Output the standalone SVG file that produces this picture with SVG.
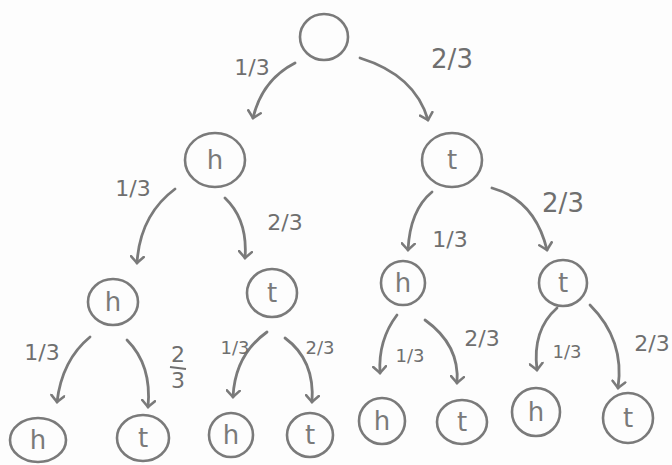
<svg xmlns="http://www.w3.org/2000/svg" width="672" height="465" viewBox="0 0 672 465">
<style>
.node{fill:none;stroke:#7a7a7a;stroke-width:2.6}
.lt{font-family:"DejaVu Sans","Liberation Sans",sans-serif;font-size:26px;fill:#7a7a7a;text-anchor:middle}
.edge{fill:none;stroke:#7a7a7a;stroke-width:2.8;stroke-linecap:round;marker-end:url(#ah)}
.lab{font-family:"DejaVu Sans","Liberation Sans",sans-serif;font-size:22px;fill:#6f6f6f;text-anchor:middle}
.big{font-size:26px}
.sm{font-size:18px}
</style>
<defs>
<marker id="ah" viewBox="0 0 12 12" refX="6" refY="6" markerWidth="5.5" markerHeight="5.5" orient="auto" markerUnits="strokeWidth">
<path d="M1,1 L6,6 L1,11" fill="none" stroke="#7a7a7a" stroke-width="2" stroke-linecap="round"/>
</marker>
</defs>
<rect width="672" height="465" fill="#fdfdfd"/>
<g id="connectors">
<path class="edge" d="M295,63 Q262,80 253,118"/>
<path class="edge" d="M360,58 Q415,75 428,120"/>
<path class="edge" d="M175,189 Q140,215 137,263"/>
<path class="edge" d="M225,198 Q248,220 245,258"/>
<path class="edge" d="M432,192 Q410,210 408,250"/>
<path class="edge" d="M492,188 Q535,200 547,250"/>
<path class="edge" d="M90,337 Q62,360 57,402"/>
<path class="edge" d="M127,340 Q152,365 148,407"/>
<path class="edge" d="M267,332 Q235,355 233,397"/>
<path class="edge" d="M285,338 Q315,360 312,402"/>
<path class="edge" d="M397,315 Q378,340 380,373"/>
<path class="edge" d="M425,320 Q460,345 457,383"/>
<path class="edge" d="M557,308 Q532,330 537,370"/>
<path class="edge" d="M590,305 Q625,340 618,388"/>
<text class="lab" x="252" y="75">1/3</text>
<text class="lab big" x="452" y="68">2/3</text>
<text class="lab" x="133" y="196">1/3</text>
<text class="lab" x="285" y="230">2/3</text>
<text class="lab" x="450" y="247">1/3</text>
<text class="lab big" x="563" y="212">2/3</text>
<text class="lab" x="42" y="360">1/3</text>
<text class="lab" x="178" y="362">2</text>
<line x1="170" y1="367" x2="186" y2="369" stroke="#6f6f6f" stroke-width="2"/>
<text class="lab" x="178" y="388">3</text>
<text class="lab sm" x="235" y="354">1/3</text>
<text class="lab sm" x="320" y="354">2/3</text>
<text class="lab sm" x="410" y="362">1/3</text>
<text class="lab" x="482" y="346">2/3</text>
<text class="lab sm" x="567" y="358">1/3</text>
<text class="lab" x="652" y="351">2/3</text>
</g>
<g id="root"><ellipse class="node" cx="324" cy="37" rx="24" ry="23"/></g>
<g id="n_h"><ellipse class="node" cx="215" cy="160" rx="30" ry="27"/><text class="lt" x="215" y="169">h</text></g>
<g id="n_t"><ellipse class="node" cx="452" cy="160" rx="30" ry="27"/><text class="lt" x="452" y="169">t</text></g>
<g id="n_hh"><ellipse class="node" cx="113" cy="302" rx="25" ry="23"/><text class="lt" x="113" y="311">h</text></g>
<g id="n_ht"><ellipse class="node" cx="272" cy="293" rx="25" ry="24"/><text class="lt" x="272" y="302">t</text></g>
<g id="n_th"><ellipse class="node" cx="403" cy="283" rx="22" ry="22"/><text class="lt" x="403" y="292">h</text></g>
<g id="n_tt"><ellipse class="node" cx="563" cy="283" rx="24" ry="23"/><text class="lt" x="563" y="292">t</text></g>
<g id="n_hhh"><ellipse class="node" cx="38" cy="440" rx="28" ry="22"/><text class="lt" x="38" y="449">h</text></g>
<g id="n_hht"><ellipse class="node" cx="143" cy="438" rx="26" ry="23"/><text class="lt" x="143" y="447">t</text></g>
<g id="n_hth"><ellipse class="node" cx="231" cy="435" rx="22" ry="22"/><text class="lt" x="231" y="444">h</text></g>
<g id="n_htt"><ellipse class="node" cx="310" cy="435" rx="23" ry="22"/><text class="lt" x="310" y="444">t</text></g>
<g id="n_thh"><ellipse class="node" cx="382" cy="421" rx="23" ry="23"/><text class="lt" x="382" y="430">h</text></g>
<g id="n_tht"><ellipse class="node" cx="462" cy="422" rx="25" ry="22"/><text class="lt" x="462" y="431">t</text></g>
<g id="n_tth"><ellipse class="node" cx="536" cy="412" rx="24" ry="24"/><text class="lt" x="536" y="421">h</text></g>
<g id="n_ttt"><ellipse class="node" cx="628" cy="418" rx="25" ry="25"/><text class="lt" x="628" y="427">t</text></g>
</svg>
